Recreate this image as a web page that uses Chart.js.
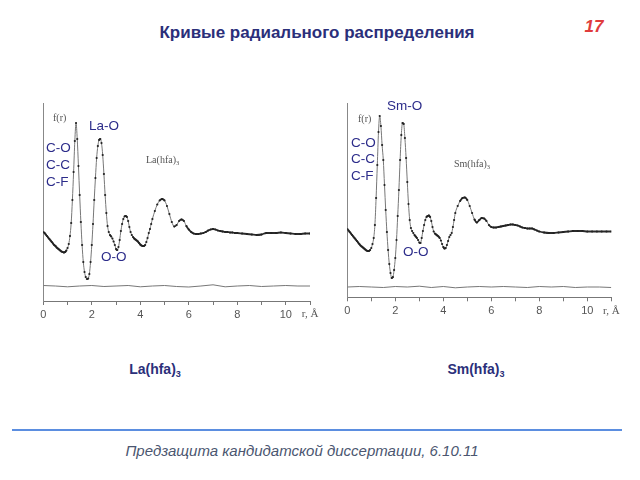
<!DOCTYPE html>
<html>
<head>
<meta charset="utf-8">
<script src="https://cdn.jsdelivr.net/npm/chart.js@4.4.1/dist/chart.umd.min.js"></script>
<style>
  body { margin: 0; background: #fff; }
  #slide { position: relative; width: 640px; height: 480px; overflow: hidden; font-family: "Liberation Sans", Arial, sans-serif; }
  canvas { position: absolute; }
  .t { position: absolute; white-space: nowrap; transform: translateY(-50%); }
  .c { transform: translate(-50%, -50%); }
  .lbl { font-size: 13.5px; color: #2c2c8a; }
  .serif { font-family: "Liberation Serif", "Times New Roman", serif; font-size: 10px; color: #555; }
  .sub { font-size: 0.65em; vertical-align: -0.35em; }
</style>
</head>
<body>
<div id="slide">
  <div class="t c" style="left:317px;top:33px;font-size:17px;font-weight:bold;color:#2b2f7a;">Кривые радиального распределения</div>
  <div class="t c" style="left:594px;top:27px;font-size:17px;font-weight:bold;font-style:italic;color:#e03c3c;">17</div>

  <canvas id="chart_la" width="330" height="240" style="left:0;top:90px;"></canvas>
  <canvas id="chart_sm" width="310" height="240" style="left:330px;top:90px;"></canvas>

  <!-- подписи левого графика -->
  <div class="t serif" style="left:53px;top:117px;">f(r)</div>
  <div class="t lbl" style="left:89px;top:125px;">La-O</div>
  <div class="t lbl" style="left:46px;top:147px;">C-O</div>
  <div class="t lbl" style="left:46px;top:164px;">C-C</div>
  <div class="t lbl" style="left:46px;top:181px;">C-F</div>
  <div class="t lbl" style="left:101px;top:256px;">O-O</div>
  <div class="t serif" style="left:146px;top:160px;">La(hfa)<span class="sub">3</span></div>

  <!-- подписи правого графика -->
  <div class="t serif" style="left:358px;top:118px;">f(r)</div>
  <div class="t lbl" style="left:387px;top:105px;">Sm-O</div>
  <div class="t lbl" style="left:351px;top:142px;">C-O</div>
  <div class="t lbl" style="left:351px;top:158px;">C-C</div>
  <div class="t lbl" style="left:351px;top:175px;">C-F</div>
  <div class="t lbl" style="left:403px;top:251px;">O-O</div>
  <div class="t serif" style="left:454px;top:164px;">Sm(hfa)<span class="sub">3</span></div>

  <div class="t c" style="left:155px;top:370px;font-size:14px;font-weight:bold;color:#2b2f7a;">La(hfa)<span class="sub">3</span></div>
  <div class="t c" style="left:476px;top:370px;font-size:14px;font-weight:bold;color:#2b2f7a;">Sm(hfa)<span class="sub">3</span></div>

  <div style="position:absolute;left:12px;top:429px;width:610px;height:2px;background:#5b8ee0;"></div>
  <div class="t c" style="left:302px;top:450px;font-size:15px;font-style:italic;color:#4b5670;">Предзащита кандидатской диссертации, 6.10.11</div>
</div>

<script>
// r, Å
const rGrid = [
  0.00, 0.05, 0.10, 0.15, 0.20, 0.25, 0.30, 0.35, 0.40, 0.45,
  0.50, 0.55, 0.60, 0.65, 0.70, 0.75, 0.80, 0.85, 0.90, 0.95,
  1.00, 1.05, 1.10, 1.15, 1.20, 1.25, 1.30, 1.35, 1.40, 1.45,
  1.50, 1.55, 1.60, 1.65, 1.70, 1.75, 1.80, 1.85, 1.90, 1.95,
  2.00, 2.05, 2.10, 2.15, 2.20, 2.25, 2.30, 2.35, 2.40, 2.45,
  2.50, 2.55, 2.60, 2.65, 2.70, 2.75, 2.80, 2.85, 2.90, 2.95,
  3.00, 3.05, 3.10, 3.15, 3.20, 3.25, 3.30, 3.35, 3.40, 3.45,
  3.50, 3.55, 3.60, 3.65, 3.70, 3.75, 3.80, 3.85, 3.90, 3.95,
  4.00, 4.05, 4.10, 4.15, 4.20, 4.25, 4.30, 4.35, 4.40, 4.45,
  4.50, 4.60, 4.70, 4.80, 4.90, 5.00, 5.10, 5.20, 5.30, 5.40,
  5.50, 5.60, 5.70, 5.80, 5.90, 6.00, 6.10, 6.20, 6.30, 6.40,
  6.50, 6.60, 6.70, 6.80, 6.90, 7.00, 7.10, 7.20, 7.30, 7.40,
  7.50, 7.60, 7.70, 7.80, 7.90, 8.00, 8.20, 8.40, 8.60, 8.80,
  9.00, 9.20, 9.40, 9.60, 9.80, 10.00, 10.20, 10.40, 10.60, 10.80,
  11.00
];

// f(r) La(hfa)3
const fLa = [
  5.4, 5.3, 5.15, 5.0, 4.85, 4.7, 4.55, 4.4, 4.25, 4.1,
  4.0, 3.85, 3.75, 3.65, 3.55, 3.45, 3.4, 3.35, 3.4, 3.55,
  3.8, 4.2, 5.0, 6.3, 8.6, 11.4, 14.5, 16.3, 14.7, 12.0,
  9.1, 6.4, 4.1, 2.4, 1.4, 0.9, 0.7, 0.75, 1.2, 2.4,
  4.1, 6.2, 8.6, 10.8, 12.8, 14.0, 14.6, 14.7, 14.3, 13.1,
  11.2, 9.1, 7.3, 6.0, 5.4, 5.1, 4.95, 4.75, 4.45, 4.1,
  3.7, 3.6, 3.9, 4.6, 5.5, 6.2, 6.7, 6.95, 7.0, 6.9,
  6.5, 5.9, 5.4, 5.1, 4.9, 4.75, 4.65, 4.55, 4.45, 4.3,
  4.15, 4.05, 4.0, 4.0, 4.1, 4.4, 4.8, 5.3, 5.7, 6.2,
  6.7, 7.5, 8.15, 8.55, 8.7, 8.55, 8.0, 7.2, 6.4, 5.95,
  6.1, 6.5, 6.65, 6.5, 6.0, 5.65, 5.4, 5.25, 5.2, 5.2,
  5.25, 5.3, 5.4, 5.55, 5.65, 5.7, 5.65, 5.55, 5.5, 5.45,
  5.4, 5.4, 5.35, 5.35, 5.3, 5.3, 5.25, 5.2, 5.15, 5.1,
  5.15, 5.3, 5.3, 5.3, 5.35, 5.3, 5.25, 5.2, 5.2, 5.25,
  5.25
];

// f(r) Sm(hfa)3
const fSm = [
  5.8, 5.65, 5.5, 5.35, 5.2, 5.05, 4.9, 4.75, 4.6, 4.45,
  4.3, 4.15, 4.05, 3.95, 3.85, 3.75, 3.65, 3.6, 3.6, 3.7,
  3.9, 4.3, 4.9, 6.2, 8.9, 12.2, 15.5, 17.1, 16.1, 14.2,
  12.7, 10.2, 7.7, 5.5, 3.7, 2.3, 1.4, 0.9, 1.0, 1.7,
  2.9, 4.7, 7.1, 9.7, 12.7, 15.2, 16.4, 16.3, 14.9, 12.9,
  10.5, 8.3, 6.7, 5.9, 5.6, 5.4, 5.2, 5.05, 4.9, 4.7,
  4.45, 4.4, 4.9, 5.6, 6.2, 6.7, 7.0, 7.1, 7.15, 7.0,
  6.6, 6.0, 5.55, 5.35, 5.25, 5.15, 5.05, 4.9, 4.65, 4.3,
  4.0, 3.85, 3.9, 4.2, 4.6, 5.0, 5.2, 5.4, 6.0, 6.7,
  7.4, 8.1, 8.6, 8.9, 8.95, 8.7, 8.1, 7.4, 6.75, 6.45,
  6.7, 6.9, 6.85, 6.6, 6.2, 6.0, 5.95, 5.95, 6.0, 6.05,
  6.1, 6.15, 6.2, 6.25, 6.25, 6.2, 6.15, 6.05, 5.95, 5.9,
  5.85, 5.85, 5.85, 5.75, 5.65, 5.55, 5.45, 5.4, 5.4, 5.45,
  5.5, 5.55, 5.6, 5.6, 5.6, 5.55, 5.55, 5.55, 5.55, 5.55,
  5.55
];

// разностные кривые
const rDiff = [0, 0.5, 1, 1.5, 2, 2.5, 3, 3.5, 4, 4.5, 5, 5.5, 6, 6.5, 7, 7.5, 8, 8.5, 9, 9.5, 10, 10.5, 11];
const dLa = [0.05, 0, -0.08, 0, 0.05, -0.05, 0, 0.05, -0.08, 0, 0.05, -0.05, -0.1, 0, 0.12, -0.08, 0, 0.05, -0.05, 0, 0.05, 0, 0];
const dSm = [0, 0.05, 0, -0.05, 0.05, 0, 0.08, -0.05, 0.05, -0.08, 0, 0.05, 0, 0.05, 0, -0.05, 0.05, 0, 0.05, -0.05, 0, 0, -0.05];

const xTickLabels = ['0', '', '2', '', '4', '', '6', '', '8', '', '10', 'r, Å'];

function toPoints(xs, ys) {
    return xs.map((x, i) => ({ x: x, y: ys[i] }));
}

// крутые участки тоньше и светлее, пологие — жирные
function isSteep(c) {
    const dx = Math.abs(c.p1.x - c.p0.x) || 1;
    return Math.abs(c.p1.y - c.p0.y) / dx > 1.6;
}

function setupChart(ctx, f, d, yMin, yMax, pad, xHeight) {
    return new Chart(ctx, {
        type: 'line',
        data: {
            datasets: [
                {
                    data: toPoints(rGrid, f),
                    borderColor: '#333',
                    borderWidth: 1.6,
                    segment: {
                        borderColor: c => isSteep(c) ? '#777' : '#2a2a2a',
                        borderWidth: c => isSteep(c) ? 1 : 1.8
                    },
                    pointRadius: 1.1,
                    pointBorderWidth: 0,
                    pointBackgroundColor: '#222',
                    cubicInterpolationMode: 'monotone'
                },
                {
                    data: toPoints(rDiff, d),
                    borderColor: '#777',
                    borderWidth: 1,
                    pointRadius: 0,
                    tension: 0
                }
            ]
        },
        options: {
            animation: false,
            responsive: false,
            devicePixelRatio: 1,
            layout: { padding: pad },
            plugins: {
                legend: { display: false },
                tooltip: { enabled: false }
            },
            scales: {
                x: {
                    type: 'linear',
                    min: 0,
                    max: 11,
                    afterFit: s => { s.height = xHeight; },
                    border: { color: '#777', width: 1 },
                    grid: { drawOnChartArea: false, drawTicks: true, tickLength: 4, color: '#777' },
                    ticks: {
                        stepSize: 1,
                        autoSkip: false,
                        maxRotation: 0,
                        padding: 3,
                        color: '#555',
                        font: c => c.tick && c.tick.value === 11
                            ? { family: 'Liberation Serif', size: 11 }
                            : { family: 'Liberation Sans', size: 11 },
                        callback: v => xTickLabels[Math.round(v)]
                    }
                },
                y: {
                    min: yMin,
                    max: yMax,
                    afterFit: s => { s.width = 0; },
                    border: { color: '#888', width: 1 },
                    grid: { display: false },
                    ticks: { display: false }
                }
            }
        }
    });
}

setupChart(document.getElementById('chart_la').getContext('2d'), fLa, dLa, -1.5, 18.3,
    { left: 43.3, right: 20, top: 13, bottom: 0 }, 29);
setupChart(document.getElementById('chart_sm').getContext('2d'), fSm, dSm, -1.03, 18.4,
    { left: 17.3, right: 28.7, top: 13, bottom: 0 }, 32.7);
</script>
</body>
</html>
